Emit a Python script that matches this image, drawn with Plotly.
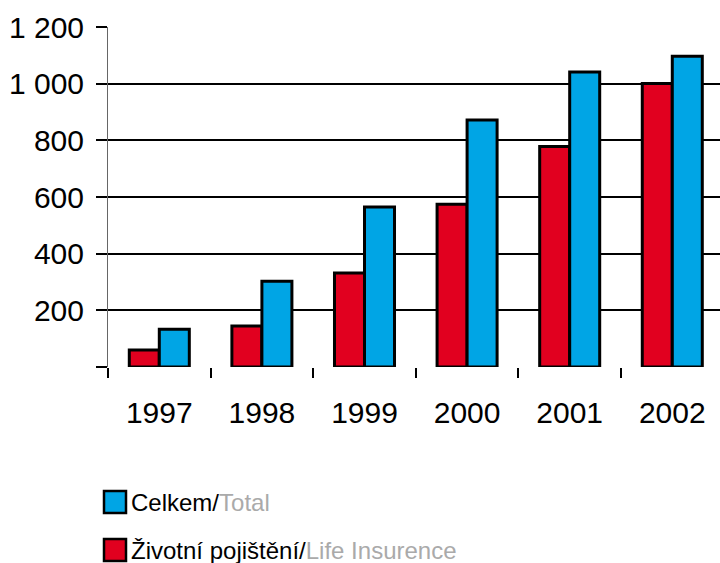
import plotly.graph_objects as go

years = ["1997", "1998", "1999", "2000", "2001", "2002"]
life = [60, 145, 332, 574, 778, 1001]
total = [133, 303, 565, 872, 1041, 1097]
y_ticks = [0, 200, 400, 600, 800, 1000, 1200]
y_labels = ["", "200", "400", "600", "800", "1 000", "1 200"]

RED = "#E1001F"
BLUE = "#00A5E5"
FONT = "Liberation Sans"

fig = go.Figure()
fig.add_bar(x=years, y=life, name="Životní pojištění/Life Insurence",
            marker=dict(color=RED, line=dict(color="black", width=3)), showlegend=False)
fig.add_bar(x=years, y=total, name="Celkem/Total",
            marker=dict(color=BLUE, line=dict(color="black", width=3)), showlegend=False)

W, H = 720, 563
L, T, B = 108, 27, 196
plot_w = W - L
plot_h = H - T - B

def px(xp):
    return (xp - L) / plot_w

def py(yp):
    return (H - B - yp) / plot_h

legend_items = [
    (BLUE, "Celkem/", "Total", 502),
    (RED, "Životní pojištění/", "Life Insurence", 550),
]
for color, cz, en, yc in legend_items:
    fig.add_shape(type="rect", xref="paper", yref="paper",
                  x0=px(104), x1=px(126), y0=py(yc - 11), y1=py(yc + 11),
                  fillcolor=color, line=dict(color="black", width=2.5))
    fig.add_annotation(xref="paper", yref="paper", x=px(129), y=py(yc),
                       xanchor="left", yanchor="middle", showarrow=False,
                       text=f"{cz}<span style='color:#AAAAAA'>{en}</span>",
                       font=dict(family=FONT, size=24, color="black"))

fig.update_layout(
    width=W, height=H,
    margin=dict(l=L, r=0, t=T, b=B),
    paper_bgcolor="white", plot_bgcolor="white",
    barmode="group", bargap=0.415, bargroupgap=0,
    font=dict(family=FONT, color="black"),
    showlegend=False,
)
fig.update_xaxes(
    type="category", range=[-0.5, 5.465],
    ticks="outside", tickson="boundaries", ticklen=10, tickwidth=1.5, tickcolor="black",
    showgrid=False, showline=False, zeroline=False,
    tickfont=dict(family=FONT, size=30, color="black"),
    ticklabelstandoff=25,
)
fig.update_yaxes(
    range=[0, 1200], tickvals=y_ticks, ticktext=y_labels,
    ticks="outside", ticklen=11, tickwidth=1.5, tickcolor="black",
    showgrid=True, gridcolor="black", gridwidth=2,
    zeroline=False, showline=True, linecolor="#666666", linewidth=1,
    tickfont=dict(family=FONT, size=30, color="black"),
    ticklabelstandoff=6,
)

fig.write_html("out.html")
